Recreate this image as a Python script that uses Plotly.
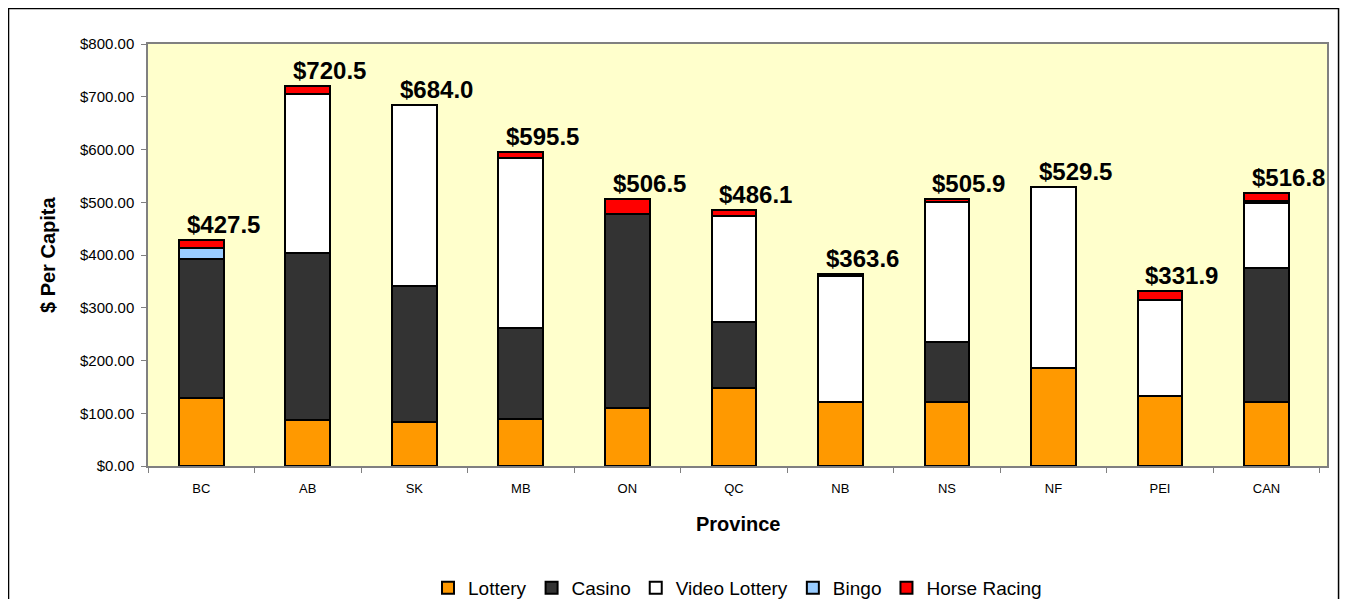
import plotly.graph_objects as go

provinces = ["BC", "AB", "SK", "MB", "ON", "QC", "NB", "NS", "NF", "PEI", "CAN"]
lottery = [128.5, 87.0, 83.0, 90.0, 109.5, 147.5, 121.5, 121.0, 186.0, 133.0, 121.0]
casino = [263.0, 316.0, 259.0, 172.0, 368.5, 125.5, 0.0, 114.0, 0.0, 0.0, 254.7]
video_lottery = [0.0, 302.0, 342.0, 322.0, 0.0, 201.0, 238.5, 265.5, 343.5, 181.5, 122.0]
bingo = [21.0, 0.0, 0.0, 0.0, 0.0, 0.0, 0.0, 0.0, 0.0, 0.0, 4.0]
horse_racing = [15.0, 15.5, 0.0, 11.5, 28.5, 12.1, 3.6, 5.4, 0.0, 17.4, 15.1]
totals = [427.5, 720.5, 684.0, 595.5, 506.5, 486.1, 363.6, 505.9, 529.5, 331.9, 516.8]

series = [
    ("Lottery", lottery, "#FF9900"),
    ("Casino", casino, "#333333"),
    ("Video Lottery", video_lottery, "#FFFFFF"),
    ("Bingo", bingo, "#99CCFF"),
    ("Horse Racing", horse_racing, "#FF0000"),
]

FONT = "Liberation Sans, Arial, sans-serif"

fig = go.Figure()
for name, vals, color in series:
    fig.add_trace(go.Bar(
        x=provinces, y=vals, name=name,
        marker=dict(color=color, line=dict(color="#000000", width=2)),
        width=0.42,
    ))

for p, t in zip(provinces, totals):
    fig.add_annotation(
        x=p, y=t, text=f"<b>${t:.1f}</b>", showarrow=False,
        xanchor="center", yanchor="bottom", xshift=22, yshift=0,
        font=dict(family=FONT, size=24, color="#000000"),
    )

# axis titles
fig.add_annotation(
    x=-0.0848, y=0.5, xref="paper", yref="paper", text="<b>$ Per Capita</b>",
    textangle=-90, showarrow=False, xanchor="center", yanchor="middle",
    font=dict(family=FONT, size=20, color="#000000"),
)
fig.add_annotation(
    x=0.5, y=-0.1374, xref="paper", yref="paper", text="<b>Province</b>",
    showarrow=False, xanchor="center", yanchor="middle",
    font=dict(family=FONT, size=20, color="#000000"),
)

# outer chart frame
fig.add_shape(
    type="rect", xref="paper", yref="paper",
    x0=-0.1183, x1=1.0098, y0=-0.4, y1=1.0841,
    line=dict(color="#000000", width=1.5), fillcolor="rgba(0,0,0,0)", layer="below",
)

fig.update_layout(
    width=1332, height=591,
    barmode="stack",
    paper_bgcolor="#FFFFFF",
    plot_bgcolor="#FFFFCC",
    margin=dict(l=140, r=13, t=36, b=133, autoexpand=False),
    font=dict(family=FONT, color="#000000"),
    showlegend=True,
    legend=dict(
        orientation="h", x=0.5, xanchor="center", y=-0.289, yanchor="middle",
        font=dict(family=FONT, size=19, color="#000000"),
        traceorder="normal", itemwidth=30,
        bgcolor="rgba(0,0,0,0)",
    ),
    xaxis=dict(
        type="category", showgrid=False, showline=True, linecolor="#808080",
        linewidth=1.5, mirror=True, ticks="outside", tickson="boundaries",
        ticklen=5, tickcolor="#808080", tickfont=dict(family=FONT, size=13),
        ticklabelstandoff=10, zeroline=False,
    ),
    yaxis=dict(
        range=[0, 800], dtick=100, tickprefix="$", tickformat=".2f",
        showgrid=False, showline=True, linecolor="#808080", linewidth=1.5,
        mirror=True, ticks="outside", ticklen=5, tickcolor="#808080",
        tickfont=dict(family=FONT, size=15), ticklabelstandoff=4, zeroline=False,
    ),
)

fig.write_html("out.html")
